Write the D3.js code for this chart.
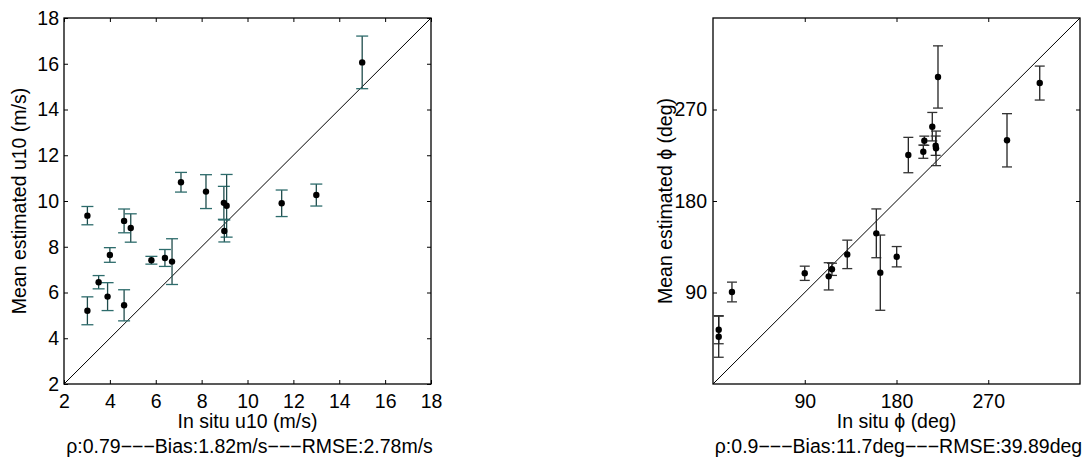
<!DOCTYPE html>
<html>
<head>
<meta charset="utf-8">
<script src="https://cdn.jsdelivr.net/npm/d3@7"></script>
<style>
  body { margin: 0; background: #fff; }
  svg { display: block; }
  text { font-family: "Liberation Sans", Arial, Helvetica, sans-serif; fill: #000; }
</style>
</head>
<body>
<svg id="chart" width="1090" height="460"></svg>
<script>
// ---- Data: wind speed panel ----
const windInSitu = [15.0, 7.1, 8.19, 8.97, 9.09, 8.99, 11.49, 13.0, 3.02, 4.62, 4.91, 4.0, 5.81, 6.4, 6.71, 3.51, 3.9, 3.02, 4.62];
const windEst    = [16.06, 10.82, 10.41, 9.92, 9.79, 8.69, 9.9, 10.26, 9.36, 9.13, 8.82, 7.64, 7.41, 7.51, 7.35, 6.45, 5.82, 5.2, 5.44];
const windErr    = [1.15, 0.43, 0.74, 0.72, 1.37, 0.48, 0.58, 0.48, 0.4, 0.52, 0.62, 0.32, 0.17, 0.37, 1.0, 0.29, 0.61, 0.61, 0.68];
const windTicks  = [2, 4, 6, 8, 10, 12, 14, 16, 18];
const windDomain = [2, 18];

// ---- Data: wind direction panel ----
const dirInSitu = [220.7, 320.5, 288.4, 215.1, 207.3, 206.3, 218.4, 218.8, 191.6, 160.2, 164.1, 180.2, 131.7, 116.7, 113.5, 90, 18.6, 5.6, 5.6];
const dirEst    = [302, 296, 239.7, 253.1, 239.3, 228.5, 234.4, 231.8, 225.2, 148.2, 109.5, 125.2, 127.5, 112.8, 105.9, 108.9, 90.5, 53.4, 46.5];
const dirErr    = [30.6, 16.7, 26.2, 14, 4.5, 6.5, 9.5, 17, 17.4, 24, 37, 10, 14, 6, 13.4, 7, 9.7, 13.8, 20.2];
const dirTicks  = [90, 180, 270];
const dirDomain = [0, 360];

const svg = d3.select("#chart");
const FS = 19.5;

function panel(opts) {
  const {x0, x1, y0, y1, domain, ticks, xs, ys, es, xLabel, yLabel, stats, stemColor, capColor, capHalf, yLabelX, yPad} = opts;
  const x = d3.scaleLinear().domain(domain).range([x0, x1]);
  const y = d3.scaleLinear().domain(domain).range([y1, y0]);
  const g = svg.append("g");

  const ax = g.append("g").attr("transform", `translate(0,${y1})`)
    .call(d3.axisBottom(x).tickValues(ticks).tickSizeInner(-4).tickSizeOuter(0).tickPadding(10).tickFormat(d3.format("d")));
  const ay = g.append("g").attr("transform", `translate(${x0},0)`)
    .call(d3.axisLeft(y).tickValues(ticks).tickSizeInner(-4).tickSizeOuter(0).tickPadding(yPad).tickFormat(d3.format("d")));
  const at = g.append("g").attr("transform", `translate(0,${y0})`)
    .call(d3.axisTop(x).tickValues(ticks).tickSizeInner(-4).tickSizeOuter(0).tickFormat(""));
  const ar = g.append("g").attr("transform", `translate(${x1},0)`)
    .call(d3.axisRight(y).tickValues(ticks).tickSizeInner(-4).tickSizeOuter(0).tickFormat(""));
  [ax, ay, at, ar].forEach(a => {
    a.select(".domain").remove();
    a.selectAll("line").attr("stroke", "#000").attr("stroke-width", 1);
    a.selectAll("text").attr("font-size", FS).attr("fill", "#000")
      .style("font-family", '"Liberation Sans", Arial, Helvetica, sans-serif');
  });

  g.append("rect").attr("x", x0).attr("y", y0).attr("width", x1 - x0).attr("height", y1 - y0)
    .attr("fill", "none").attr("stroke", "#000").attr("stroke-width", 1.3);

  g.append("line").attr("x1", x(domain[0])).attr("y1", y(domain[0]))
    .attr("x2", x(domain[1])).attr("y2", y(domain[1]))
    .attr("stroke", "#000").attr("stroke-width", 1);

  const data = xs.map((v, i) => ({x: v, y: ys[i], e: es[i]}));
  const eb = g.append("g").selectAll("g").data(data).join("g");
  eb.append("line")
    .attr("x1", d => x(d.x)).attr("x2", d => x(d.x))
    .attr("y1", d => y(d.y + d.e)).attr("y2", d => y(d.y - d.e))
    .attr("stroke", stemColor).attr("stroke-width", 1.3);
  eb.append("line")
    .attr("x1", d => x(d.x) - capHalf).attr("x2", d => x(d.x) + capHalf)
    .attr("y1", d => y(d.y + d.e)).attr("y2", d => y(d.y + d.e))
    .attr("stroke", capColor).attr("stroke-width", 1.3);
  eb.append("line")
    .attr("x1", d => x(d.x) - capHalf).attr("x2", d => x(d.x) + capHalf)
    .attr("y1", d => y(d.y - d.e)).attr("y2", d => y(d.y - d.e))
    .attr("stroke", capColor).attr("stroke-width", 1.3);

  g.append("g").selectAll("circle").data(data).join("circle")
    .attr("cx", d => x(d.x)).attr("cy", d => y(d.y)).attr("r", 3.2).attr("fill", "#000");

  const cx = (x0 + x1) / 2;
  g.append("text").attr("x", cx).attr("y", 428).attr("text-anchor", "middle")
    .attr("font-size", FS).text(xLabel);
  g.append("text").attr("x", cx + 2).attr("y", 453).attr("text-anchor", "middle")
    .attr("font-size", FS).text(stats);
  g.append("text").attr("transform", `translate(${yLabelX},${(y0 + y1) / 2}) rotate(-90)`)
    .attr("text-anchor", "middle").attr("font-size", FS).text(yLabel);
}

panel({
  x0: 64, x1: 431, y0: 18, y1: 384,
  domain: windDomain, ticks: windTicks,
  xs: windInSitu, ys: windEst, es: windErr,
  xLabel: "In situ u10 (m/s)",
  yLabel: "Mean estimated u10 (m/s)",
  stats: "ρ:0.79−−−Bias:1.82m/s−−−RMSE:2.78m/s",
  stemColor: "#1f4c4c", capColor: "#2d6c6c", capHalf: 6,
  yLabelX: 26, yPad: 5
});

panel({
  x0: 713, x1: 1080, y0: 18, y1: 384,
  domain: dirDomain, ticks: dirTicks,
  xs: dirInSitu, ys: dirEst, es: dirErr,
  xLabel: "In situ ϕ (deg)",
  yLabel: "Mean estimated ϕ (deg)",
  stats: "ρ:0.9−−−Bias:11.7deg−−−RMSE:39.89deg",
  stemColor: "#222", capColor: "#333", capHalf: 5,
  yLabelX: 672, yPad: 6
});
</script>
</body>
</html>
